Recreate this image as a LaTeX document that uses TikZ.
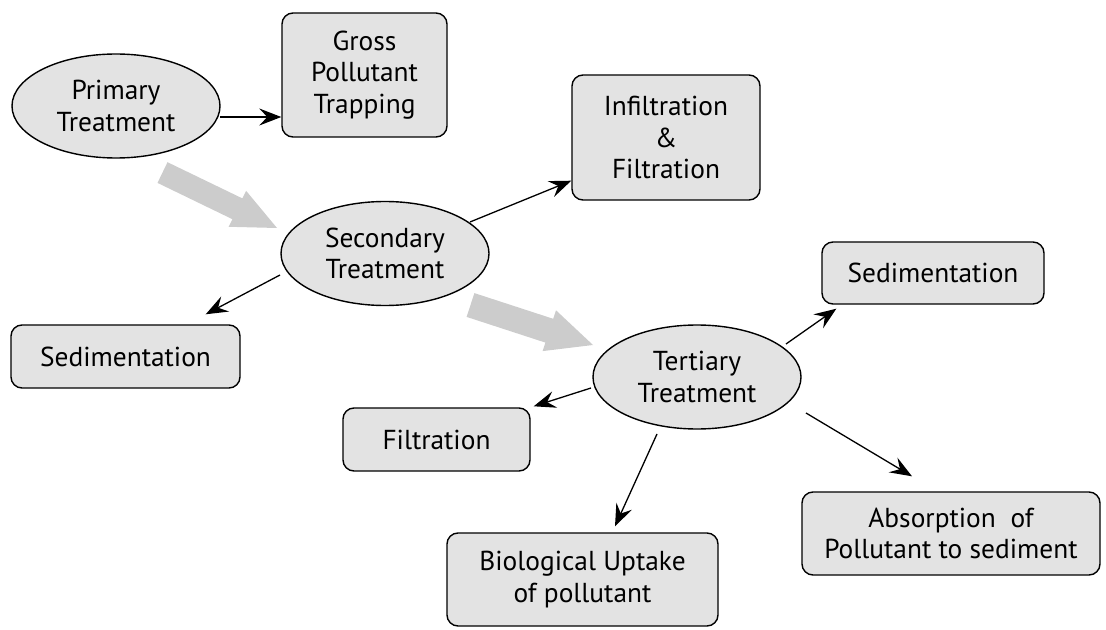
\documentclass[tikz,border=0pt]{standalone}
\usepackage{fontspec}
\setmainfont{PT Sans}
\usetikzlibrary{shapes.geometric,arrows.meta,calc}
\definecolor{boxfill}{HTML}{E3E3E3}
\definecolor{bigarrow}{HTML}{CCCCCC}
\begin{document}
\begin{tikzpicture}[x=1bp,y=-1bp,
  every node/.style={font=\fontsize{27.5}{31.5}\selectfont, align=center, inner sep=0pt},
  treat/.style={ellipse, draw=black, line width=1.4bp, fill=boxfill, minimum width=208bp, minimum height=104bp},
  proc/.style={rectangle, rounded corners=11bp, draw=black, line width=1.4bp, fill=boxfill},
  link/.style={-{Stealth[length=22bp,width=17bp,inset=8bp]}, line width=1.3bp},
  flow/.style={fill=bigarrow}
]
\useasboundingbox (0,0) rectangle (1106,630);

% big grey flow arrows
\fill[flow] (167.5,162.2) -- (242.4,198.4) -- (246.1,190.8) -- (277,228) -- (228.7,226.8) -- (232.4,219.2) -- (157.5,182.9) -- cycle;
\fill[flow] (474.4,293.1) -- (553.2,318.8) -- (556.0,310.3) -- (593,345) -- (542.6,351.1) -- (545.4,342.6) -- (466.6,316.9) -- cycle;

% nodes
\node[treat] (prim) at (116,106) {Primary\\Treatment};
\node[proc, minimum width=165bp, minimum height=124bp] (gross) at (364.5,75) {Gross\\Pollutant\\Trapping};
\node[treat] (sec) at (385,253.5) {Secondary\\Treatment};
\node[proc, minimum width=188bp, minimum height=125bp] (infil) at (666,137.5) {Infiltration\\\&\\Filtration};
\node[proc, minimum width=229bp, minimum height=63bp] (sedL) at (125.5,356.5) {Sedimentation};
\node[proc, minimum width=222bp, minimum height=62bp] (sedR) at (933,273) {Sedimentation};
\node[treat] (tert) at (697,377) {Tertiary\\Treatment};
\node[proc, minimum width=187bp, minimum height=63bp] (filt) at (436.5,439.5) {Filtration};
\node[proc, minimum width=271bp, minimum height=93bp] (bio) at (582.5,579.5) {Biological Uptake\\of pollutant};
\node[proc, minimum width=298bp, minimum height=83bp] (abs) at (951,533.5) {Absorption~~of\\Pollutant to sediment};

% connectors
\draw[link] ($(prim.center)+(104,11)$) -- ($(gross.west)+(0,42)$);
\draw[link] ($(sec.center)+(85,-31.5)$) -- ($(infil.south west)+(0,-20)$);
\draw[link] ($(sec.center)+(-105,21.5)$) -- ($(sedL.north east)+(-35,-10)$);
\draw[link] ($(tert.center)+(89,-33)$) -- ($(sedR.south west)+(15,4)$);
\draw[link] ($(tert.center)+(-106,11)$) -- ($(filt.north east)+(3,-1)$);
\draw[link] ($(tert.center)+(-40,57)$) -- ($(bio.north)+(32.5,-6)$);
\draw[link] ($(tert.center)+(109,36)$) -- ($(abs.north)+(-39,-15)$);
\end{tikzpicture}
\end{document}
